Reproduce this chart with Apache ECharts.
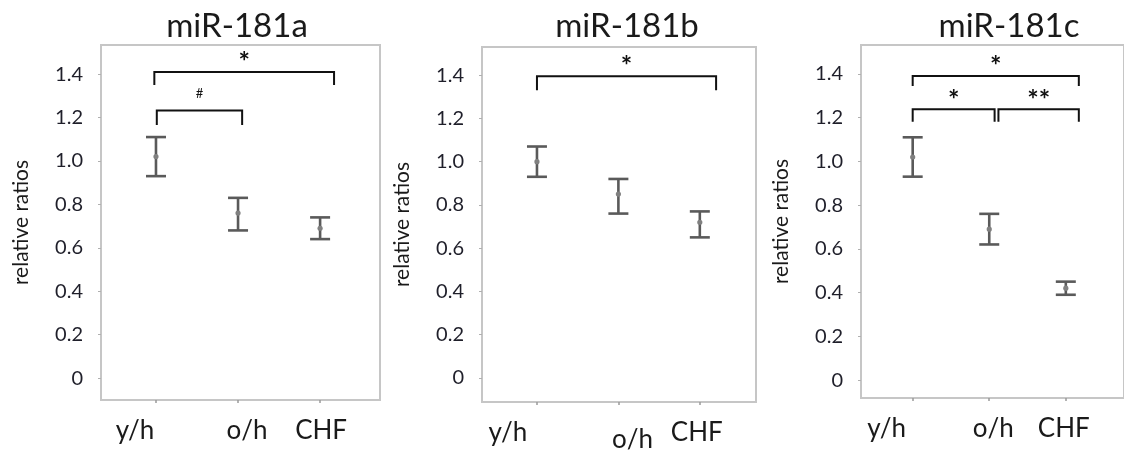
<!DOCTYPE html>
<html>
<head>
<meta charset="utf-8">
<script src="https://cdn.jsdelivr.net/npm/echarts@6/dist/echarts.min.js"></script>
<style>
  html, body { margin: 0; padding: 0; background: #fff; }
  #main { width: 1124px; height: 453px; }
</style>
</head>
<body>
<div id="main"></div>
<script>
// categories and tick labels
var categories = ['y/h', 'o/h', 'CHF'];
var panelTitles = ['miR-181a', 'miR-181b', 'miR-181c'];
var yTickValues = [0, 0.2, 0.4, 0.6, 0.8, 1.0, 1.2, 1.4];
var yTickLabels = ['0', '0.2', '0.4', '0.6', '0.8', '1.0', '1.2', '1.4'];

// mean and error bar ends
var means181a = [1.02, 0.76, 0.69];
var lows181a = [0.93, 0.68, 0.64];
var highs181a = [1.11, 0.83, 0.74];

var means181b = [1.00, 0.85, 0.72];
var lows181b = [0.93, 0.76, 0.65];
var highs181b = [1.07, 0.92, 0.77];

var means181c = [1.02, 0.69, 0.42];
var lows181c = [0.93, 0.62, 0.39];
var highs181c = [1.11, 0.76, 0.45];

// significance brackets: [from x, to x, height, leg drop]
var brackets181a = [[0.98, 3.17, 1.41, 0.06], [1.01, 2.05, 1.232, 0.066]];
var bracketLabels181a = ['*', '#'];
var brackets181b = [[1.0, 3.2, 1.395, 0.065]];
var bracketLabels181b = ['*'];
var brackets181c = [[1.0, 3.17, 1.39, 0.045], [1.0, 2.07, 1.238, 0.057], [2.12, 3.17, 1.238, 0.057]];
var bracketLabels181c = ['*', '*', '**'];

var panels = [
    { means: means181a, lows: lows181a, highs: highs181a, br: brackets181a, brLabels: bracketLabels181a },
    { means: means181b, lows: lows181b, highs: highs181b, br: brackets181b, brLabels: bracketLabels181b },
    { means: means181c, lows: lows181c, highs: highs181c, br: brackets181c, brLabels: bracketLabels181c }
];

// layout per panel (pixels) - grid boxes and axis ranges
var grids = [
    { left: 101, top: 45, width: 279, height: 355 },
    { left: 482, top: 47, width: 274, height: 355 },
    { left: 861, top: 45, width: 280, height: 353 }
];
var xRanges = [[0.33, 3.73], [0.325, 3.69], [0.325, 3.76]];
var yRanges = [[-0.101, 1.534], [-0.111, 1.53], [-0.082, 1.532]];
var titleCenters = [232, 622, 1004];
// how far each category label sits off its tick [dx, dy]
var labelShifts = [
    [[-21, 0], [9, 0], [1, 0]],
    [[-29, 0], [14, 7], [-3, 0]],
    [[-26, 0], [4, 0], [-2, 0]]
];

var myChart = echarts.init(document.getElementById('main'));

function errorBarItem(params, api) {
    var x = api.value(0);
    var mid = api.coord([x, api.value(1)]);
    var lo = api.coord([x, api.value(2)]);
    var hi = api.coord([x, api.value(3)]);
    var half = 10;
    var st = { stroke: '#5a5a5a', lineWidth: 2.6 };
    return {
        type: 'group',
        children: [
            { type: 'line', shape: { x1: hi[0], y1: hi[1], x2: lo[0], y2: lo[1] }, style: st },
            { type: 'line', shape: { x1: hi[0] - half, y1: hi[1], x2: hi[0] + half, y2: hi[1] }, style: st },
            { type: 'line', shape: { x1: lo[0] - half, y1: lo[1], x2: lo[0] + half, y2: lo[1] }, style: st },
            { type: 'circle', shape: { cx: mid[0], cy: mid[1], r: 2.6 }, style: { fill: '#808080' } }
        ]
    };
}

function bracketRenderer(labels) {
    return function (params, api) {
        var x1 = api.value(0), x2 = api.value(1), y = api.value(2), drop = api.value(3);
        var a = api.coord([x1, y - drop]);
        var b = api.coord([x1, y]);
        var c = api.coord([x2, y]);
        var d = api.coord([x2, y - drop]);
        var txt = labels[params.dataIndex];
        var isHash = txt === '#';
        return {
            type: 'group',
            children: [
                {
                    type: 'polyline',
                    shape: { points: [a, b, c, d] },
                    style: { stroke: '#111', lineWidth: 2, fill: null }
                },
                {
                    type: 'text',
                    x: (b[0] + c[0]) / 2,
                    y: b[1] - (isHash ? 10 : -4),
                    style: {
                        text: txt,
                        fill: '#111',
                        font: (isHash ? 'normal 13px Lato' : 'bold 27px Lato'),
                        align: 'center',
                        verticalAlign: 'bottom'
                    }
                }
            ]
        };
    };
}

var option = {
    animation: false,
    backgroundColor: '#fff',
    title: [],
    grid: [],
    xAxis: [],
    yAxis: [],
    series: []
};

for (var p = 0; p < 3; p++) {
    (function (p) {
        var g = grids[p];
        option.title.push({
            text: panelTitles[p],
            left: titleCenters[p],
            top: 5,
            textAlign: 'center',
            textStyle: { fontFamily: 'Lato', fontWeight: 'normal', fontSize: 33, color: '#1a1a1a' }
        });
        option.grid.push({
            left: g.left, top: g.top, width: g.width, height: g.height,
            show: true, borderColor: '#c6c6c6', borderWidth: 2, backgroundColor: '#fff'
        });

        var rich = {};
        labelShifts[p].forEach(function (s, i) {
            var dx = s[0], dy = s[1];
            rich['c' + i] = {
                fontFamily: 'Lato', fontSize: 26, color: '#1a1a1a',
                padding: [dy, dx < 0 ? -2 * dx : 0, 0, dx > 0 ? 2 * dx : 0]
            };
        });

        option.xAxis.push({
            type: 'value',
            gridIndex: p,
            min: xRanges[p][0],
            max: xRanges[p][1],
            splitLine: { show: false },
            axisLine: { show: false, onZero: false },
            axisTick: { show: true, customValues: [1, 2, 3], length: 3, lineStyle: { color: '#9a9a9a', width: 1.5 } },
            axisLabel: {
                customValues: [1, 2, 3],
                margin: 18,
                formatter: function (v) {
                    var i = Math.round(v) - 1;
                    return '{c' + i + '|' + categories[i] + '}';
                },
                rich: rich
            }
        });

        option.yAxis.push({
            type: 'value',
            gridIndex: p,
            min: yRanges[p][0],
            max: yRanges[p][1],
            splitLine: { show: false },
            axisLine: { show: false, onZero: false },
            axisTick: { show: true, customValues: yTickValues, length: 3, lineStyle: { color: '#b0b0b0' } },
            axisLabel: {
                customValues: yTickValues,
                margin: 18,
                fontFamily: 'Lato',
                fontSize: 20,
                color: '#1f1f2a',
                formatter: function (v) {
                    for (var k = 0; k < yTickValues.length; k++) {
                        if (Math.abs(yTickValues[k] - v) < 1e-6) return yTickLabels[k];
                    }
                    return '';
                }
            },
            name: 'relative ratios',
            nameLocation: 'middle',
            nameGap: 69,
            nameTextStyle: { fontFamily: 'Lato', fontSize: 21, color: '#1a1a1a' }
        });

        var pd = panels[p];
        var ebData = categories.map(function (c, i) {
            return [i + 1, pd.means[i], pd.lows[i], pd.highs[i]];
        });
        option.series.push({
            type: 'custom',
            name: panelTitles[p],
            xAxisIndex: p,
            yAxisIndex: p,
            renderItem: errorBarItem,
            encode: { x: 0, y: [1, 2, 3] },
            data: ebData
        });
        option.series.push({
            type: 'custom',
            name: panelTitles[p] + ' sig',
            xAxisIndex: p,
            yAxisIndex: p,
            renderItem: bracketRenderer(pd.brLabels),
            encode: { x: [0, 1], y: 2 },
            data: pd.br
        });
    })(p);
}

myChart.setOption(option);
window.addEventListener('resize', function () {
    myChart.resize();
});
</script>
</body>
</html>
